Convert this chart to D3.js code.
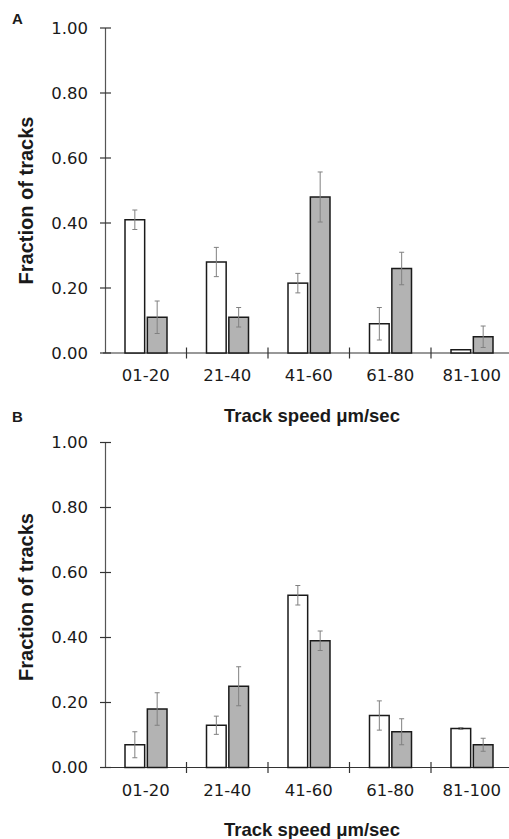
<!DOCTYPE html>
<html lang="en">
<head>
<meta charset="UTF-8">
<title>track speed</title>
<script src="https://cdn.jsdelivr.net/npm/d3@7/dist/d3.min.js"></script>
<style>
  body { margin: 0; background: #fff; }
  text { fill: #1a1a1a; }
</style>
</head>
<body>
<script>
// data
var categories = ["01-20", "21-40", "41-60", "61-80", "81-100"];
var yTicks = [0, 0.2, 0.4, 0.6, 0.8, 1.0];

var aWhite    = [0.41, 0.28, 0.215, 0.09, 0.01];
var aWhiteErr = [0.03, 0.045, 0.03, 0.05, 0];
var aGray     = [0.11, 0.11, 0.48, 0.26, 0.05];
var aGrayErr  = [0.05, 0.03, 0.077, 0.05, 0.033];

var bWhite    = [0.07, 0.13, 0.53, 0.16, 0.12];
var bWhiteErr = [0.04, 0.028, 0.03, 0.045, 0.003];
var bGray     = [0.18, 0.25, 0.39, 0.11, 0.07];
var bGrayErr  = [0.05, 0.06, 0.03, 0.04, 0.02];

var W = 509, H = 839;
var svg = d3.select("body").append("svg")
    .attr("width", W).attr("height", H);

var x = d3.scaleBand().domain(categories).range([105, 512.5]).padding(0);
var sub = d3.scaleBand().domain(["white", "gray"])
    .range([20, 62]).paddingInner(0.12);

function panel(label, labelY, top, white, whiteErr, gray, grayErr, ytitleShift) {
  var y = d3.scaleLinear().domain([0, 1]).range([top + 325, top]);
  var g = svg.append("g");

  g.append("text").attr("x", 12).attr("y", labelY)
      .style("font", "bold 15px 'Liberation Sans', Arial, sans-serif")
      .text(label);

  // y axis
  g.append("line").attr("x1", 105.5).attr("x2", 105.5)
      .attr("y1", y(1)).attr("y2", y(0))
      .attr("stroke", "#555").attr("stroke-width", 1.2);
  g.selectAll(".yt").data(yTicks).enter().append("line")
      .attr("x1", 100).attr("x2", 111)
      .attr("y1", function(d) { return y(d); })
      .attr("y2", function(d) { return y(d); })
      .attr("stroke", "#333").attr("stroke-width", 1.2);
  g.selectAll(".yl").data(yTicks).enter().append("text")
      .attr("x", 88).attr("y", function(d) { return y(d); })
      .attr("dy", "0.36em").attr("text-anchor", "end")
      .style("font", "16.5px 'DejaVu Sans', sans-serif")
      .text(d3.format(".2f"));

  // x axis
  var y0 = y(0);
  g.append("line").attr("x1", 103).attr("x2", W)
      .attr("y1", y0).attr("y2", y0)
      .attr("stroke", "#333").attr("stroke-width", 1.2);
  g.selectAll(".xt").data(categories.slice(1)).enter().append("line")
      .attr("x1", function(d) { return x(d); })
      .attr("x2", function(d) { return x(d); })
      .attr("y1", y0 - 5.5).attr("y2", y0 + 5.5)
      .attr("stroke", "#333").attr("stroke-width", 1.2);
  g.selectAll(".xl").data(categories).enter().append("text")
      .attr("x", function(d) { return x(d) + x.bandwidth() / 2; })
      .attr("y", y0 + 28).attr("text-anchor", "middle")
      .style("font", "16.5px 'DejaVu Sans', sans-serif")
      .text(function(d) { return d; });

  // bars
  var rows = [];
  categories.forEach(function(c, i) {
    rows.push({cat: c, key: "white", v: white[i], e: whiteErr[i]});
    rows.push({cat: c, key: "gray", v: gray[i], e: grayErr[i]});
  });
  var bars = g.selectAll(".bar").data(rows).enter().append("g");
  bars.append("rect")
      .attr("x", function(d) { return x(d.cat) + sub(d.key); })
      .attr("width", sub.bandwidth())
      .attr("y", function(d) { return y(d.v); })
      .attr("height", function(d) { return y0 - y(d.v); })
      .attr("fill", function(d) { return d.key === "white" ? "#fff" : "#b3b3b3"; })
      .attr("stroke", "#1a1a1a").attr("stroke-width", 1.5);

  // error bars
  var err = bars.filter(function(d) { return d.e > 0; });
  var cx = function(d) { return x(d.cat) + sub(d.key) + sub.bandwidth() / 2; };
  err.append("line")
      .attr("x1", cx).attr("x2", cx)
      .attr("y1", function(d) { return y(d.v + d.e); })
      .attr("y2", function(d) { return y(d.v - d.e); })
      .attr("stroke", "#808080").attr("stroke-width", 1);
  [1, -1].forEach(function(s) {
    err.append("line")
        .attr("x1", function(d) { return cx(d) - 2.5; })
        .attr("x2", function(d) { return cx(d) + 2.5; })
        .attr("y1", function(d) { return y(d.v + s * d.e); })
        .attr("y2", function(d) { return y(d.v + s * d.e); })
        .attr("stroke", "#808080").attr("stroke-width", 1);
  });

  // titles
  var mid = (y(0) + y(1)) / 2 + ytitleShift;
  g.append("text")
      .attr("transform", "translate(33," + mid + ") rotate(-90)")
      .attr("text-anchor", "middle")
      .style("font", "bold 20px 'Liberation Sans', Arial, sans-serif")
      .text("Fraction of tracks");
  g.append("text")
      .attr("x", 312).attr("y", y0 + 68.5).attr("text-anchor", "middle")
      .style("font", "bold 18.5px 'Liberation Sans', Arial, sans-serif")
      .text("Track speed \u03bcm/sec");
}

panel("A", 24, 28, aWhite, aWhiteErr, aGray, aGrayErr, 10);
panel("B", 422, 442.5, bWhite, bWhiteErr, bGray, bGrayErr, -8);
</script>
</body>
</html>
